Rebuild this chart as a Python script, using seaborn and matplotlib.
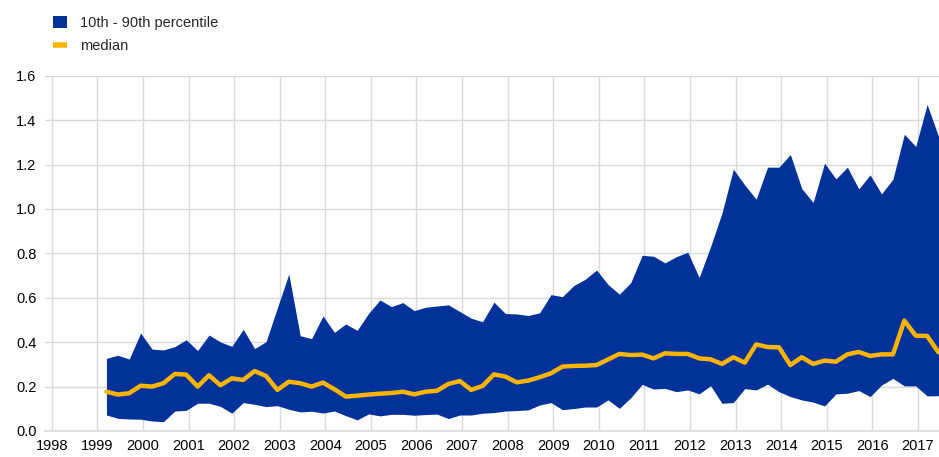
import matplotlib
matplotlib.use("Agg")
import matplotlib.pyplot as plt
from matplotlib.patches import Patch
from matplotlib.lines import Line2D
import numpy as np
import pandas as pd
import seaborn as sns

sns.set_style("white")
plt.rcParams["font.family"] = ["Liberation Sans", "DejaVu Sans"]

BLUE = "#003299"
ORANGE = "#FFB400"
GRID = "#d9d9d9"

# quarterly observations, first one plotted at 1999.2
start_year = 1999.2
p90 = [0.327, 0.341, 0.324, 0.441, 0.369, 0.365, 0.380, 0.411, 0.362, 0.432,
       0.401, 0.381, 0.458, 0.371, 0.402, 0.555, 0.707, 0.429, 0.416, 0.518,
       0.444, 0.482, 0.453, 0.530, 0.590, 0.560, 0.578, 0.542, 0.557, 0.563,
       0.568, 0.538, 0.508, 0.492, 0.580, 0.529, 0.527, 0.520, 0.532, 0.614,
       0.605, 0.655, 0.683, 0.725, 0.660, 0.616, 0.668, 0.791, 0.787, 0.757,
       0.785, 0.805, 0.691, 0.830, 0.981, 1.179, 1.108, 1.044, 1.188, 1.188,
       1.245, 1.092, 1.029, 1.206, 1.135, 1.188, 1.090, 1.153, 1.068, 1.134,
       1.336, 1.281, 1.471, 1.326]
p10 = [0.072, 0.057, 0.054, 0.053, 0.045, 0.042, 0.090, 0.093, 0.125, 0.125,
       0.111, 0.080, 0.128, 0.120, 0.110, 0.114, 0.098, 0.086, 0.089, 0.081,
       0.090, 0.069, 0.050, 0.077, 0.068, 0.075, 0.075, 0.071, 0.074, 0.076,
       0.056, 0.072, 0.072, 0.080, 0.083, 0.090, 0.092, 0.095, 0.117, 0.128,
       0.096, 0.101, 0.108, 0.108, 0.140, 0.102, 0.150, 0.210, 0.189, 0.192,
       0.177, 0.185, 0.167, 0.204, 0.125, 0.128, 0.191, 0.185, 0.211, 0.177,
       0.155, 0.140, 0.130, 0.113, 0.167, 0.170, 0.182, 0.155, 0.207, 0.237,
       0.203, 0.203, 0.158, 0.159]
median = [0.177, 0.164, 0.170, 0.204, 0.200, 0.215, 0.257, 0.254, 0.200, 0.251,
          0.206, 0.237, 0.230, 0.270, 0.248, 0.185, 0.222, 0.215, 0.200, 0.218,
          0.188, 0.155, 0.159, 0.164, 0.168, 0.171, 0.177, 0.165, 0.177, 0.181,
          0.212, 0.225, 0.185, 0.203, 0.255, 0.245, 0.219, 0.227, 0.242, 0.260,
          0.290, 0.293, 0.294, 0.297, 0.322, 0.347, 0.342, 0.344, 0.327, 0.350,
          0.347, 0.347, 0.327, 0.323, 0.302, 0.332, 0.308, 0.390, 0.378, 0.377,
          0.297, 0.332, 0.302, 0.317, 0.312, 0.345, 0.356, 0.338, 0.345, 0.345,
          0.497, 0.429, 0.428, 0.354]
years = list(range(1998, 2018))
y_ticks = [0.0, 0.2, 0.4, 0.6, 0.8, 1.0, 1.2, 1.4, 1.6]

df = pd.DataFrame({"p10": p10, "p90": p90, "median": median})
df["t"] = start_year + 0.25 * np.arange(len(df))

fig = plt.figure(figsize=(9.39, 4.57), dpi=100)
ax = fig.add_axes([0.0478, 0.0569, 0.9517, 0.7775])

ax.fill_between(df["t"], df["p10"], df["p90"], color=BLUE, linewidth=0, zorder=2)
sns.lineplot(data=df, x="t", y="median", color=ORANGE, linewidth=3.2, ax=ax,
             zorder=3, legend=False)

ax.set_xlim(1997.85, df["t"].iloc[-1])
ax.set_ylim(0, 1.6)
ax.set_xticks(years)
ax.set_xticklabels([str(y) for y in years])
ax.set_yticks(y_ticks)
ax.set_yticklabels([f"{v:.1f}" for v in y_ticks])
ax.grid(True, color=GRID, linewidth=1.0, zorder=0)
ax.set_axisbelow(True)
for side in ["left", "right", "top"]:
    ax.spines[side].set_visible(False)
ax.spines["bottom"].set_color(GRID)
ax.spines["bottom"].set_linewidth(1.2)
ax.tick_params(axis="both", length=0, labelsize=10.5, colors="#000000", pad=6)
ax.set_xlabel("")
ax.set_ylabel("")

handles = [Patch(facecolor=BLUE, edgecolor="none"),
           Line2D([0], [0], color=ORANGE, linewidth=4, solid_capstyle="butt")]
fig.legend(handles, ["10th - 90th percentile", "median"],
           loc="upper left", bbox_to_anchor=(0.05, 0.978), frameon=False,
           fontsize=10.5, handlelength=0.95, handleheight=0.95,
           handletextpad=0.9, labelspacing=0.6, borderaxespad=0)

fig.savefig("out.png", dpi=100)
